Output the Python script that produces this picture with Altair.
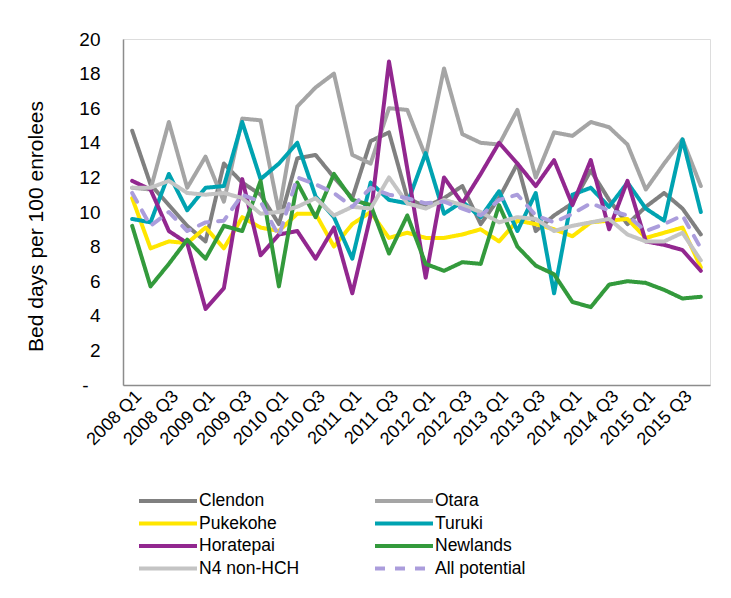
import altair as alt
import pandas as pd

quarters = [
    "2008 Q1", "2008 Q2", "2008 Q3", "2008 Q4",
    "2009 Q1", "2009 Q2", "2009 Q3", "2009 Q4",
    "2010 Q1", "2010 Q2", "2010 Q3", "2010 Q4",
    "2011 Q1", "2011 Q2", "2011 Q3", "2011 Q4",
    "2012 Q1", "2012 Q2", "2012 Q3", "2012 Q4",
    "2013 Q1", "2013 Q2", "2013 Q3", "2013 Q4",
    "2014 Q1", "2014 Q2", "2014 Q3", "2014 Q4",
    "2015 Q1", "2015 Q2", "2015 Q3", "2015 Q4",
]
tick_labels = quarters[::2]

clendon = [14.7, 11.6, 10.4, 9.2, 8.3, 12.8, 11.7, 11.0, 9.3, 13.1, 13.3, 12.0,
           10.8, 14.1, 14.6, 10.8, 10.3, 10.8, 11.5, 9.3, 10.8, 12.8, 8.9, 9.8,
           10.5, 12.4, 10.7, 9.3, 10.3, 11.1, 10.2, 8.7]
otara = [11.4, 11.3, 15.2, 11.4, 13.2, 10.6, 15.4, 15.3, 10.0, 16.1, 17.2, 18.0,
         13.3, 12.8, 16.0, 15.9, 13.2, 18.3, 14.5, 14.0, 13.9, 15.9, 12.0, 14.6,
         14.4, 15.2, 14.9, 13.9, 11.3, 12.8, 14.2, 11.5]
pukekohe = [10.8, 7.9, 8.3, 8.2, 9.1, 7.9, 9.7, 9.1, 8.9, 9.9, 9.9, 8.0,
            9.3, 10.0, 8.5, 8.8, 8.5, 8.5, 8.7, 9.0, 8.3, 9.5, 9.3, 9.0,
            8.6, 9.4, 9.5, 9.6, 8.5, 8.8, 9.1, 6.8]
turuki = [9.6, 9.4, 12.2, 10.1, 11.4, 11.5, 15.2, 11.9, 12.8, 14.0, 10.9, 9.7,
          7.3, 11.7, 10.7, 10.5, 13.4, 9.9, 10.6, 9.7, 11.2, 8.9, 11.1, 5.3,
          11.0, 11.4, 10.3, 11.7, 10.2, 9.5, 14.2, 10.0]
horatepai = [11.8, 11.3, 8.9, 8.2, 4.4, 5.6, 11.9, 7.5, 8.7, 8.9, 7.3, 9.1,
             5.3, 9.8, 18.7, 12.5, 6.2, 12.0, 10.5, 12.2, 14.0, 12.8, 11.5, 13.0,
             10.4, 13.0, 9.0, 11.8, 8.3, 8.1, 7.8, 6.6]
newlands = [9.2, 5.7, 7.0, 8.4, 7.3, 9.2, 8.9, 11.8, 5.7, 11.7, 9.7, 12.2,
            10.7, 10.4, 7.6, 9.8, 7.0, 6.6, 7.1, 7.0, 10.4, 8.0, 6.9, 6.4,
            4.8, 4.5, 5.8, 6.0, 5.9, 5.5, 5.0, 5.1]
n4_non_hch = [11.4, 11.4, 11.8, 11.1, 11.0, 11.1, 10.8, 9.9, 10.0, 10.3, 10.8, 9.8,
              10.3, 10.2, 12.0, 10.5, 10.2, 10.7, 10.4, 10.0, 9.4, 9.7, 9.6, 8.9,
              9.2, 9.4, 9.6, 8.7, 8.3, 8.3, 8.8, 7.2]
all_potential = [11.1, 9.2, 10.0, 8.9, 9.4, 9.5, 11.0, 10.6, 8.6, 12.0, 11.6, 11.1,
                 10.3, 11.4, 11.0, 10.8, 10.5, 10.6, 10.2, 9.8, 10.7, 11.0, 9.8, 9.4,
                 9.9, 10.5, 10.1, 9.8, 8.9, 9.3, 9.8, 7.9]

series_names = ["Clendon", "Otara", "Pukekohe", "Turuki", "Horatepai",
                "Newlands", "N4 non-HCH", "All potential"]
series_values = [clendon, otara, pukekohe, turuki, horatepai,
                 newlands, n4_non_hch, all_potential]
colors = ["#808080", "#a5a5a5", "#ffe600", "#00a3b1", "#92278f",
          "#339a3c", "#c4c4c4", "#ab9ddc"]
dashes = [[1, 0]] * 7 + [[10, 10]]

rows = []
for name, vals in zip(series_names, series_values):
    for q, v in zip(quarters, vals):
        rows.append({"series": name, "quarter": q, "value": v})
df = pd.DataFrame(rows)

FONT = "Liberation Sans"

legend = alt.Legend(
    title=None, orient="none", legendX=14, legendY=453, columns=2,
    direction="horizontal", clipHeight=18,
    symbolType="stroke", symbolSize=3364, symbolStrokeWidth=4,
    labelFont=FONT, labelFontSize=17.5, labelColor="#000000",
    labelOffset=0, rowPadding=4.5, columnPadding=73, labelLimit=300,
)

lines = alt.Chart(df).mark_line(
    strokeWidth=4, strokeCap="round", strokeJoin="round"
).encode(
    x=alt.X("quarter:O", sort=quarters, title=None,
            axis=alt.Axis(values=tick_labels, labelAngle=-45, labelAlign="right",
                          labelBaseline="top", labelPadding=2, labelFont=FONT,
                          labelFontSize=18, labelColor="#000000", ticks=False,
                          tickSize=0, domainColor="#8c8c8c", domainWidth=1.5,
                          grid=False, labelOverlap=False)),
    y=alt.Y("value:Q", scale=alt.Scale(domain=[0, 20], nice=False),
            title="Bed days per 100 enrolees",
            axis=alt.Axis(values=list(range(0, 21, 2)),
                          labelExpr="datum.value == 0 ? '-' : datum.label",
                          labelFont=FONT, labelFontSize=19, labelColor="#000000",
                          labelPadding={"condition": {"test": "datum.value == 0", "value": 35},
                                        "value": 23},
                          ticks=False, tickSize=0,
                          domainColor="#8c8c8c", domainWidth=1.5, grid=False,
                          titleFont=FONT, titleFontSize=21, titleFontWeight="normal",
                          titleColor="#000000", titleAngle=-90, titleAlign="center",
                          titleBaseline="middle", titleX=-87, titleY=187)),
    color=alt.Color("series:N", sort=series_names,
                    scale=alt.Scale(domain=series_names, range=colors), legend=legend),
    strokeDash=alt.StrokeDash("series:N", sort=series_names,
                              scale=alt.Scale(domain=series_names, range=dashes),
                              legend=legend),
)

border = alt.Chart(pd.DataFrame({"b": [0]})).mark_rule(
    color="#d0d0d0", strokeWidth=1.5
).encode(x=alt.value(-117), y=alt.value(-39), y2=alt.value(551))

chart = alt.layer(border, lines).properties(
    width=587, height=346,
    autosize=alt.AutoSizeParams(type="none"),
    padding={"left": 115, "top": 31, "right": 13, "bottom": 205},
).configure_view(stroke=None).configure(background="#ffffff")

chart.save("out.html", embed_options={"renderer": "svg", "actions": False})
